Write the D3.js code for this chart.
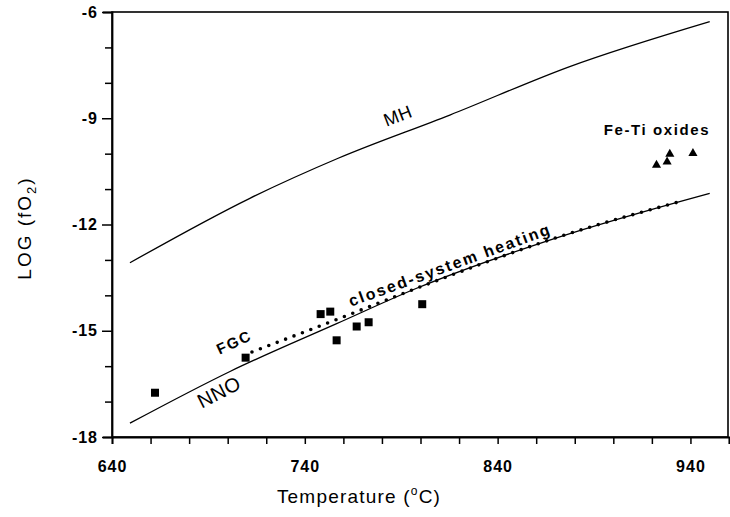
<!DOCTYPE html>
<html>
<head>
<meta charset="utf-8">
<script src="https://cdn.jsdelivr.net/npm/d3@7"></script>
<style>
  body { margin: 0; background: #fff; }
  svg { display: block; font-family: "Liberation Sans", Arial, Helvetica, sans-serif; }
  .tick text { font-weight: bold; font-size: 16px; letter-spacing: 1px; fill: #000; }
  .domain, .tick line { stroke: #000; }
</style>
</head>
<body>
<div id="chart"></div>
<script>
const width = 730, height = 517;
const margin = {left: 112, right: 1, top: 12, bottom: 80};

// buffer curves, temperature in C vs log fO2
const mhT   = [649.3, 711.5, 757.3, 815.2, 877.4, 950];
const mhLog = [-13.08, -11.26, -10.13, -8.91, -7.54, -6.27];
const nnoT   = [649.3, 701.2, 756.5, 798, 867, 950];
const nnoLog = [-17.61, -16.15, -14.8, -13.8, -12.44, -11.12];

// closed-system heating path from FGC
const heatT   = [712.6, 754.7, 798, 875.7, 932.7];
const heatLog = [-15.6, -14.72, -13.8, -12.28, -11.38];

// samples (squares)
const sampT   = [662.3, 709.3, 748.2, 753.2, 756.5, 766.9, 773.1, 800.9];
const sampLog = [-16.75, -15.76, -14.53, -14.46, -15.27, -14.88, -14.76, -14.25];

// Fe-Ti oxides (triangles)
const oxT   = [922.4, 927.9, 929.3, 941.3];
const oxLog = [-10.32, -10.23, -10.01, -9.99];

const xTicks = d3.range(640, 961, 20);
const xLabels = [640, 740, 840, 940];
const yTicks = d3.range(-18, -5, 1);
const yLabels = [-18, -15, -12, -9, -6];

const x = d3.scaleLinear().domain([640, 960]).range([margin.left, width - margin.right]);
const y = d3.scaleLinear().domain([-18, -6]).range([height - margin.bottom, margin.top]);

const svg = d3.select("#chart").append("svg")
  .attr("width", width).attr("height", height);

// frame
svg.append("rect")
  .attr("x", x(640)).attr("y", y(-6))
  .attr("width", x(960) - x(640) - 1).attr("height", y(-18) - y(-6))
  .attr("fill", "none").attr("stroke", "#000").attr("stroke-width", 1.6);

const xAxis = svg.append("g")
  .attr("transform", "translate(0," + y(-18) + ")")
  .call(d3.axisBottom(x).tickValues(xTicks).tickSize(7).tickPadding(17)
    .tickFormat(d => xLabels.includes(d) ? d : ""));
xAxis.select(".domain").attr("stroke-width", 1.8);
xAxis.selectAll(".tick line").attr("stroke-width", 1.5);

const yAxis = svg.append("g")
  .attr("transform", "translate(" + x(640) + ",0)")
  .call(d3.axisLeft(y).tickValues(yTicks).tickSize(9).tickPadding(5)
    .tickFormat(d => yLabels.includes(d) ? String(d) : ""));
yAxis.select(".domain").attr("stroke-width", 1.8);
yAxis.selectAll(".tick line").attr("stroke-width", 1.5)
  .attr("x2", d => yLabels.includes(d) ? -10 : -7);

// axis titles
const xl = svg.append("text")
  .attr("x", 359).attr("y", 503)
  .attr("text-anchor", "middle")
  .style("font-size", "19px").style("letter-spacing", "1.2px");
xl.append("tspan").text("Temperature (");
xl.append("tspan").attr("dy", -8).style("font-size", "12px").text("o");
xl.append("tspan").attr("dy", 8).text("C)");

const yl = svg.append("text")
  .attr("transform", "translate(31,228) rotate(-90)")
  .attr("text-anchor", "middle")
  .style("font-size", "19px").style("letter-spacing", "2px");
yl.append("tspan").text("LOG (fO");
yl.append("tspan").attr("dy", 5).style("font-size", "13px").text("2");
yl.append("tspan").attr("dy", -5).text(")");

const line = d3.line().curve(d3.curveMonotoneX);

svg.append("path")
  .attr("d", line(mhT.map((t, i) => [x(t), y(mhLog[i])])))
  .attr("fill", "none").attr("stroke", "#000").attr("stroke-width", 1.3);

svg.append("path")
  .attr("d", line(nnoT.map((t, i) => [x(t), y(nnoLog[i])])))
  .attr("fill", "none").attr("stroke", "#000").attr("stroke-width", 1.3);

svg.append("path")
  .attr("d", line(heatT.map((t, i) => [x(t), y(heatLog[i])])))
  .attr("fill", "none").attr("stroke", "#000").attr("stroke-width", 3.6)
  .attr("stroke-linecap", "round").attr("stroke-dasharray", "0 9");

// squares
svg.append("g").selectAll("rect")
  .data(sampT)
  .join("rect")
    .attr("x", (d, i) => x(d) - 4)
    .attr("y", (d, i) => y(sampLog[i]) - 4)
    .attr("width", 8).attr("height", 8)
    .attr("fill", "#000");

// triangles
svg.append("g").selectAll("path")
  .data(oxT)
  .join("path")
    .attr("d", d3.symbol(d3.symbolTriangle, 36))
    .attr("transform", (d, i) => "translate(" + x(d) + "," + y(oxLog[i]) + ")")
    .attr("fill", "#000");

// labels
function label(txt, cx, cy, ang, size, bold, spacing) {
  svg.append("text")
    .attr("transform", "translate(" + cx + "," + cy + ") rotate(" + ang + ")")
    .attr("text-anchor", "middle").attr("dominant-baseline", "central")
    .style("font-size", size + "px")
    .style("font-weight", bold ? "bold" : "normal")
    .style("letter-spacing", spacing + "px")
    .text(txt);
}
label("MH", 398, 116, -21, 18, false, 0.5);
label("NNO", 219, 392, -27, 20, false, 0.5);
label("FGC", 234, 342, -25, 15, true, 1.8);
label("closed-system heating", 450, 265, -20, 16, true, 2);
label("Fe-Ti oxides", 657, 129, 0, 15, true, 1.6);
</script>
</body>
</html>
